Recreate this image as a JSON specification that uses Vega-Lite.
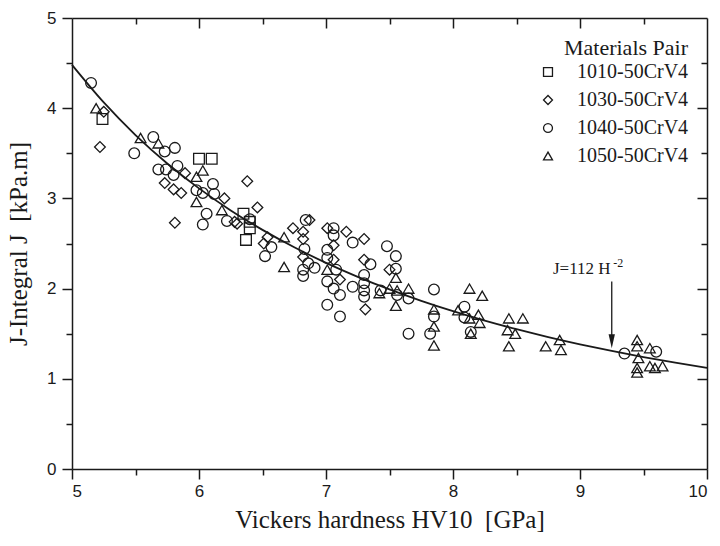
{
  "$schema": "https://vega.github.io/schema/vega-lite/v6.json",
  "width": 635,
  "height": 451,
  "autosize": {"type": "none"},
  "padding": {"left": 72, "top": 18, "right": 13, "bottom": 77},
  "background": "white",
  "config": {
    "view": {"stroke": null},
    "axis": {"grid": false, "domainColor": "#1a1a1a", "tickColor": "#1a1a1a", "labelColor": "#1a1a1a", "titleColor": "#1a1a1a", "domainWidth": 1.5, "tickWidth": 1.5, "labelFont": "Liberation Sans", "labelFontSize": 17, "titleFont": "Liberation Serif", "titleFontWeight": "normal", "titleFontSize": 25}
  },
  "datasets": {
    "points": [
      {"pair": "1010-50CrV4", "HV": 5.24, "J": 3.88},
      {"pair": "1010-50CrV4", "HV": 6.00, "J": 3.44},
      {"pair": "1010-50CrV4", "HV": 6.10, "J": 3.44},
      {"pair": "1010-50CrV4", "HV": 6.35, "J": 2.83},
      {"pair": "1010-50CrV4", "HV": 6.40, "J": 2.74},
      {"pair": "1010-50CrV4", "HV": 6.40, "J": 2.67},
      {"pair": "1010-50CrV4", "HV": 6.37, "J": 2.54},
      {"pair": "1030-50CrV4", "HV": 5.25, "J": 3.96},
      {"pair": "1030-50CrV4", "HV": 5.22, "J": 3.57},
      {"pair": "1030-50CrV4", "HV": 5.89, "J": 3.28},
      {"pair": "1030-50CrV4", "HV": 5.73, "J": 3.17},
      {"pair": "1030-50CrV4", "HV": 5.80, "J": 3.10},
      {"pair": "1030-50CrV4", "HV": 5.86, "J": 3.06},
      {"pair": "1030-50CrV4", "HV": 5.81, "J": 2.73},
      {"pair": "1030-50CrV4", "HV": 6.20, "J": 3.00},
      {"pair": "1030-50CrV4", "HV": 6.30, "J": 2.72},
      {"pair": "1030-50CrV4", "HV": 6.38, "J": 3.19},
      {"pair": "1030-50CrV4", "HV": 6.46, "J": 2.90},
      {"pair": "1030-50CrV4", "HV": 6.28, "J": 2.74},
      {"pair": "1030-50CrV4", "HV": 6.54, "J": 2.57},
      {"pair": "1030-50CrV4", "HV": 6.51, "J": 2.50},
      {"pair": "1030-50CrV4", "HV": 6.74, "J": 2.67},
      {"pair": "1030-50CrV4", "HV": 6.82, "J": 2.63},
      {"pair": "1030-50CrV4", "HV": 6.87, "J": 2.76},
      {"pair": "1030-50CrV4", "HV": 6.82, "J": 2.55},
      {"pair": "1030-50CrV4", "HV": 6.82, "J": 2.35},
      {"pair": "1030-50CrV4", "HV": 7.01, "J": 2.67},
      {"pair": "1030-50CrV4", "HV": 7.16, "J": 2.63},
      {"pair": "1030-50CrV4", "HV": 7.06, "J": 2.48},
      {"pair": "1030-50CrV4", "HV": 7.30, "J": 2.55},
      {"pair": "1030-50CrV4", "HV": 7.06, "J": 2.32},
      {"pair": "1030-50CrV4", "HV": 7.11, "J": 2.10},
      {"pair": "1030-50CrV4", "HV": 7.30, "J": 2.32},
      {"pair": "1030-50CrV4", "HV": 7.31, "J": 1.77},
      {"pair": "1030-50CrV4", "HV": 7.50, "J": 2.21},
      {"pair": "1040-50CrV4", "HV": 5.15, "J": 4.28},
      {"pair": "1040-50CrV4", "HV": 5.49, "J": 3.50},
      {"pair": "1040-50CrV4", "HV": 5.64, "J": 3.68},
      {"pair": "1040-50CrV4", "HV": 5.73, "J": 3.52},
      {"pair": "1040-50CrV4", "HV": 5.81, "J": 3.56},
      {"pair": "1040-50CrV4", "HV": 5.68, "J": 3.32},
      {"pair": "1040-50CrV4", "HV": 5.74, "J": 3.32},
      {"pair": "1040-50CrV4", "HV": 5.83, "J": 3.36},
      {"pair": "1040-50CrV4", "HV": 5.80, "J": 3.26},
      {"pair": "1040-50CrV4", "HV": 6.11, "J": 3.16},
      {"pair": "1040-50CrV4", "HV": 5.98, "J": 3.09},
      {"pair": "1040-50CrV4", "HV": 6.03, "J": 3.06},
      {"pair": "1040-50CrV4", "HV": 6.12, "J": 3.05},
      {"pair": "1040-50CrV4", "HV": 6.06, "J": 2.83},
      {"pair": "1040-50CrV4", "HV": 6.03, "J": 2.71},
      {"pair": "1040-50CrV4", "HV": 6.22, "J": 2.75},
      {"pair": "1040-50CrV4", "HV": 6.40, "J": 2.77},
      {"pair": "1040-50CrV4", "HV": 6.57, "J": 2.46},
      {"pair": "1040-50CrV4", "HV": 6.52, "J": 2.36},
      {"pair": "1040-50CrV4", "HV": 6.84, "J": 2.76},
      {"pair": "1040-50CrV4", "HV": 6.83, "J": 2.44},
      {"pair": "1040-50CrV4", "HV": 6.86, "J": 2.28},
      {"pair": "1040-50CrV4", "HV": 6.82, "J": 2.21},
      {"pair": "1040-50CrV4", "HV": 6.82, "J": 2.14},
      {"pair": "1040-50CrV4", "HV": 6.91, "J": 2.23},
      {"pair": "1040-50CrV4", "HV": 7.06, "J": 2.67},
      {"pair": "1040-50CrV4", "HV": 7.06, "J": 2.59},
      {"pair": "1040-50CrV4", "HV": 7.01, "J": 2.43},
      {"pair": "1040-50CrV4", "HV": 7.21, "J": 2.51},
      {"pair": "1040-50CrV4", "HV": 7.01, "J": 2.34},
      {"pair": "1040-50CrV4", "HV": 7.08, "J": 2.21},
      {"pair": "1040-50CrV4", "HV": 7.01, "J": 2.08},
      {"pair": "1040-50CrV4", "HV": 7.06, "J": 2.00},
      {"pair": "1040-50CrV4", "HV": 7.11, "J": 1.93},
      {"pair": "1040-50CrV4", "HV": 7.01, "J": 1.82},
      {"pair": "1040-50CrV4", "HV": 7.11, "J": 1.69},
      {"pair": "1040-50CrV4", "HV": 7.21, "J": 2.02},
      {"pair": "1040-50CrV4", "HV": 7.35, "J": 2.27},
      {"pair": "1040-50CrV4", "HV": 7.30, "J": 2.15},
      {"pair": "1040-50CrV4", "HV": 7.30, "J": 2.06},
      {"pair": "1040-50CrV4", "HV": 7.30, "J": 1.98},
      {"pair": "1040-50CrV4", "HV": 7.30, "J": 1.91},
      {"pair": "1040-50CrV4", "HV": 7.48, "J": 2.47},
      {"pair": "1040-50CrV4", "HV": 7.55, "J": 2.36},
      {"pair": "1040-50CrV4", "HV": 7.55, "J": 2.22},
      {"pair": "1040-50CrV4", "HV": 7.43, "J": 1.98},
      {"pair": "1040-50CrV4", "HV": 7.56, "J": 1.93},
      {"pair": "1040-50CrV4", "HV": 7.65, "J": 1.89},
      {"pair": "1040-50CrV4", "HV": 7.65, "J": 1.50},
      {"pair": "1040-50CrV4", "HV": 7.85, "J": 1.99},
      {"pair": "1040-50CrV4", "HV": 7.85, "J": 1.69},
      {"pair": "1040-50CrV4", "HV": 7.82, "J": 1.50},
      {"pair": "1040-50CrV4", "HV": 8.09, "J": 1.80},
      {"pair": "1040-50CrV4", "HV": 8.09, "J": 1.68},
      {"pair": "1040-50CrV4", "HV": 8.14, "J": 1.52},
      {"pair": "1040-50CrV4", "HV": 9.35, "J": 1.28},
      {"pair": "1040-50CrV4", "HV": 9.60, "J": 1.30},
      {"pair": "1050-50CrV4", "HV": 5.19, "J": 4.00},
      {"pair": "1050-50CrV4", "HV": 5.54, "J": 3.67},
      {"pair": "1050-50CrV4", "HV": 5.68, "J": 3.61},
      {"pair": "1050-50CrV4", "HV": 6.03, "J": 3.31},
      {"pair": "1050-50CrV4", "HV": 5.98, "J": 3.24},
      {"pair": "1050-50CrV4", "HV": 5.98, "J": 2.96},
      {"pair": "1050-50CrV4", "HV": 6.18, "J": 2.87},
      {"pair": "1050-50CrV4", "HV": 6.67, "J": 2.57},
      {"pair": "1050-50CrV4", "HV": 6.67, "J": 2.24},
      {"pair": "1050-50CrV4", "HV": 7.01, "J": 2.21},
      {"pair": "1050-50CrV4", "HV": 7.42, "J": 1.95},
      {"pair": "1050-50CrV4", "HV": 7.55, "J": 2.12},
      {"pair": "1050-50CrV4", "HV": 7.50, "J": 2.00},
      {"pair": "1050-50CrV4", "HV": 7.56, "J": 1.98},
      {"pair": "1050-50CrV4", "HV": 7.65, "J": 2.00},
      {"pair": "1050-50CrV4", "HV": 7.55, "J": 1.81},
      {"pair": "1050-50CrV4", "HV": 7.85, "J": 1.77},
      {"pair": "1050-50CrV4", "HV": 7.85, "J": 1.58},
      {"pair": "1050-50CrV4", "HV": 7.85, "J": 1.37},
      {"pair": "1050-50CrV4", "HV": 8.13, "J": 2.00},
      {"pair": "1050-50CrV4", "HV": 8.23, "J": 1.92},
      {"pair": "1050-50CrV4", "HV": 8.04, "J": 1.76},
      {"pair": "1050-50CrV4", "HV": 8.13, "J": 1.67},
      {"pair": "1050-50CrV4", "HV": 8.20, "J": 1.71},
      {"pair": "1050-50CrV4", "HV": 8.21, "J": 1.62},
      {"pair": "1050-50CrV4", "HV": 8.14, "J": 1.50},
      {"pair": "1050-50CrV4", "HV": 8.44, "J": 1.67},
      {"pair": "1050-50CrV4", "HV": 8.55, "J": 1.67},
      {"pair": "1050-50CrV4", "HV": 8.43, "J": 1.54},
      {"pair": "1050-50CrV4", "HV": 8.49, "J": 1.50},
      {"pair": "1050-50CrV4", "HV": 8.44, "J": 1.36},
      {"pair": "1050-50CrV4", "HV": 8.73, "J": 1.36},
      {"pair": "1050-50CrV4", "HV": 8.84, "J": 1.43},
      {"pair": "1050-50CrV4", "HV": 8.85, "J": 1.32},
      {"pair": "1050-50CrV4", "HV": 9.45, "J": 1.43},
      {"pair": "1050-50CrV4", "HV": 9.45, "J": 1.36},
      {"pair": "1050-50CrV4", "HV": 9.55, "J": 1.34},
      {"pair": "1050-50CrV4", "HV": 9.46, "J": 1.23},
      {"pair": "1050-50CrV4", "HV": 9.45, "J": 1.12},
      {"pair": "1050-50CrV4", "HV": 9.45, "J": 1.07},
      {"pair": "1050-50CrV4", "HV": 9.55, "J": 1.14},
      {"pair": "1050-50CrV4", "HV": 9.59, "J": 1.12},
      {"pair": "1050-50CrV4", "HV": 9.65, "J": 1.14}
    ],
    "curve": [
      {"HV": 5.0, "J": 4.48}, {"HV": 5.25, "J": 4.0635}, {"HV": 5.5, "J": 3.7025}, {"HV": 5.75, "J": 3.3875},
      {"HV": 6.0, "J": 3.1111}, {"HV": 6.25, "J": 2.8672}, {"HV": 6.5, "J": 2.6509}, {"HV": 6.75, "J": 2.4582},
      {"HV": 7.0, "J": 2.2857}, {"HV": 7.25, "J": 2.1308}, {"HV": 7.5, "J": 1.9911}, {"HV": 7.75, "J": 1.8647},
      {"HV": 8.0, "J": 1.75}, {"HV": 8.25, "J": 1.6455}, {"HV": 8.5, "J": 1.5502}, {"HV": 8.75, "J": 1.4629},
      {"HV": 9.0, "J": 1.3827}, {"HV": 9.25, "J": 1.309}, {"HV": 9.5, "J": 1.241}, {"HV": 9.75, "J": 1.1782},
      {"HV": 10.0, "J": 1.12}
    ]
  },
  "layer": [
    {
      "data": {"name": "curve"},
      "mark": {"type": "line", "interpolate": "monotone", "color": "#1a1a1a", "strokeWidth": 1.8},
      "encoding": {
        "x": {"field": "HV", "type": "quantitative", "scale": {"domain": [5, 10], "nice": false, "zero": false},
              "axis": {"orient": "bottom", "values": [5, 5.5, 6, 6.5, 7, 7.5, 8, 8.5, 9, 9.5, 10],
                       "tickSize": {"condition": {"test": "datum.value % 1 === 0", "value": 10}, "value": 6},
                       "labelExpr": "datum.value % 1 === 0 ? format(datum.value, 'd') : ''",
                       "labelPadding": 4, "title": "Vickers hardness HV10\u00a0\u00a0[GPa]", "titlePadding": 8}},
        "y": {"field": "J", "type": "quantitative", "scale": {"domain": [0, 5], "nice": false, "zero": true},
              "axis": {"orient": "left", "values": [0, 0.5, 1, 1.5, 2, 2.5, 3, 3.5, 4, 4.5, 5],
                       "tickSize": {"condition": {"test": "datum.value % 1 === 0", "value": 10}, "value": 6},
                       "labelExpr": "datum.value % 1 === 0 ? format(datum.value, 'd') : ''",
                       "labelPadding": 6, "title": "J-Integral J\u00a0\u00a0[kPa.m]", "titlePadding": 15}}
      }
    },
    {
      "data": {"name": "points"},
      "mark": {"type": "point", "filled": false, "color": "#1a1a1a", "strokeWidth": 1.3, "opacity": 1, "size": 115},
      "encoding": {
        "x": {"field": "HV", "type": "quantitative", "scale": {"domain": [5, 10], "nice": false, "zero": false},
              "axis": {"orient": "top", "values": [5.5, 6, 6.5, 7, 7.5, 8, 8.5, 9, 9.5],
                       "tickSize": {"condition": {"test": "datum.value % 1 === 0", "value": -10}, "value": -6},
                       "labels": false, "title": null}},
        "y": {"field": "J", "type": "quantitative", "scale": {"domain": [0, 5], "nice": false, "zero": true},
              "axis": {"orient": "right", "values": [0.5, 1, 1.5, 2, 2.5, 3, 3.5, 4, 4.5],
                       "tickSize": {"condition": {"test": "datum.value % 1 === 0", "value": -10}, "value": -6},
                       "labels": false, "title": null}},
        "shape": {"field": "pair", "type": "nominal",
                  "scale": {"domain": ["1010-50CrV4", "1030-50CrV4", "1040-50CrV4", "1050-50CrV4"], "range": ["square", "diamond", "circle", "triangle-up"]},
                  "legend": {"orient": "none", "legendX": 466, "legendY": 20, "padding": 0, "title": "Materials Pair", "titleFont": "Liberation Serif", "titleFontSize": 22, "titleFontWeight": "normal", "titleColor": "#1a1a1a", "titleAnchor": "end", "titlePadding": 2, "labelFont": "Liberation Serif", "labelFontSize": 20, "labelColor": "#1a1a1a", "labelOffset": 19, "rowPadding": 8, "symbolSize": 80, "symbolStrokeWidth": 1.3, "symbolStrokeColor": "#1a1a1a", "symbolFillColor": "transparent"}}
      }
    },
    {
      "data": {"values": [{}]},
      "mark": {"type": "rule", "color": "#1a1a1a", "strokeWidth": 1.3},
      "encoding": {
        "x": {"datum": 9.25, "type": "quantitative", "scale": {"domain": [5, 10], "nice": false, "zero": false}, "axis": null},
        "y": {"datum": 2.08, "type": "quantitative", "scale": {"domain": [0, 5], "nice": false, "zero": true}, "axis": null},
        "y2": {"datum": 1.45}
      }
    },
    {
      "data": {"values": [{}]},
      "mark": {"type": "point", "filled": true, "color": "#1a1a1a", "opacity": 1, "size": 160, "shape": "M-0.5,-2.2L0.5,-2.2L0,0Z", "strokeWidth": 0},
      "encoding": {
        "x": {"datum": 9.25, "type": "quantitative", "scale": {"domain": [5, 10], "nice": false, "zero": false}, "axis": null},
        "y": {"datum": 1.34, "type": "quantitative", "scale": {"domain": [0, 5], "nice": false, "zero": true}, "axis": null}
      }
    },
    {
      "data": {"values": [{}]},
      "mark": {"type": "text", "text": "J=112 H", "font": "Liberation Serif", "fontSize": 17, "align": "left", "baseline": "alphabetic", "color": "#1a1a1a"},
      "encoding": {
        "x": {"datum": 8.787, "type": "quantitative", "scale": {"domain": [5, 10], "nice": false, "zero": false}, "axis": null},
        "y": {"datum": 2.16, "type": "quantitative", "scale": {"domain": [0, 5], "nice": false, "zero": true}, "axis": null}
      }
    },
    {
      "data": {"values": [{}]},
      "mark": {"type": "text", "text": "-2", "font": "Liberation Serif", "fontSize": 12, "align": "left", "baseline": "alphabetic", "color": "#1a1a1a"},
      "encoding": {
        "x": {"datum": 9.262, "type": "quantitative", "scale": {"domain": [5, 10], "nice": false, "zero": false}, "axis": null},
        "y": {"datum": 2.24, "type": "quantitative", "scale": {"domain": [0, 5], "nice": false, "zero": true}, "axis": null}
      }
    }
  ],
  "resolve": {"scale": {"x": "independent", "y": "independent"}, "axis": {"x": "independent", "y": "independent"}}
}
